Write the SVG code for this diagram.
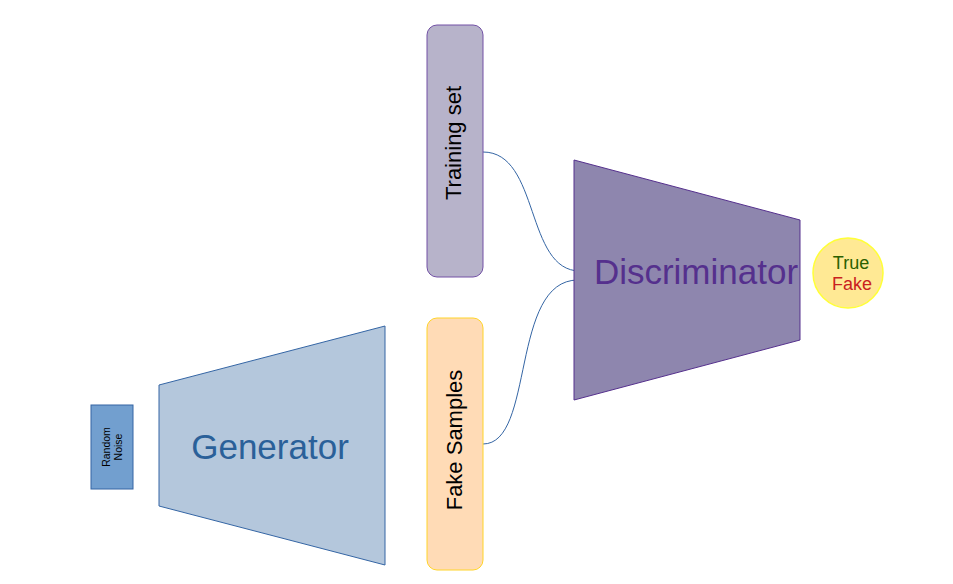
<svg xmlns="http://www.w3.org/2000/svg" width="953" height="584" viewBox="0 0 953 584">
<style>
text{font-family:"Liberation Sans",Arial,sans-serif;text-anchor:middle}
.conn{fill:none;stroke:#3465a4;stroke-width:1}
</style>
<rect width="953" height="584" fill="#ffffff"/>
<g id="connectors">
<path class="conn" d="M483,152 C540,152 525,271 580,271"/>
<path class="conn" d="M483,444 C535,444 510,280 578,280"/>
</g>
<g id="random-noise">
<rect x="91" y="405" width="42" height="84" fill="#729fcf" stroke="#3465a4" stroke-width="1"/>
<text transform="translate(112,447) rotate(-90)" font-size="10.5" fill="#000"><tspan x="0" y="-2">Random</tspan><tspan x="0" y="10">Noise</tspan></text>
</g>
<g id="generator">
<polygon points="159,385 385,326 385,565 159,506" fill="#b4c7dc" stroke="#3465a4" stroke-width="1"/>
<text x="270" y="459" font-size="35" fill="#2a6099">Generator</text>
</g>
<g id="training-set">
<rect x="427" y="25" width="56" height="252" rx="10" fill="#b7b3ca" stroke="#7251a5" stroke-width="1"/>
<text transform="translate(461,143) rotate(-90)" font-size="22" fill="#000">Training set</text>
</g>
<g id="fake-samples">
<rect x="427" y="318" width="56" height="252" rx="10" fill="#ffdbb6" stroke="#ffd428" stroke-width="1"/>
<text transform="translate(462,440) rotate(-90)" font-size="22" fill="#000">Fake Samples</text>
</g>
<g id="discriminator">
<polygon points="574,160 800,220 800,340 574,400" fill="#8e86ae" stroke="#55308d" stroke-width="1"/>
<text x="696" y="284" font-size="35" fill="#55308d">Discriminator</text>
</g>
<g id="output">
<circle cx="848" cy="273" r="35" fill="#ffe994" stroke="#ffff38" stroke-width="1.5"/>
<text x="851" y="269" font-size="18" fill="#2a6000">True</text>
<text x="852" y="290" font-size="18" fill="#c9211e">Fake</text>
</g>
</svg>
